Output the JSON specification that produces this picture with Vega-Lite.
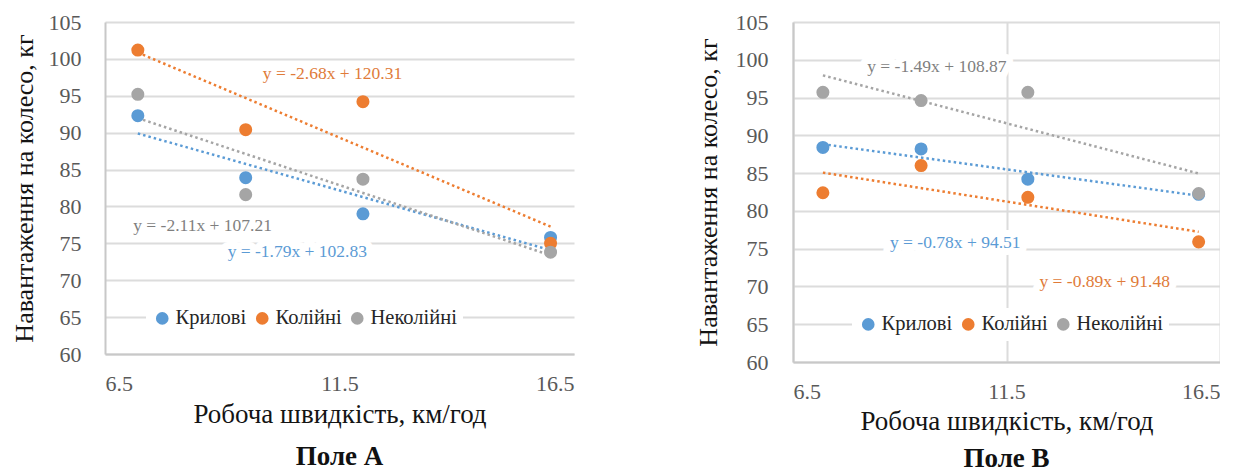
{
  "$schema": "https://vega.github.io/schema/vega-lite/v6.json",
  "padding": {"top": 11, "left": 11, "right": 0, "bottom": 0},
  "spacing": 121,
  "datasets": {
    "pointsA": [
      {"x": 7.2, "y": 92.3, "s": "Крилові"},
      {"x": 9.5, "y": 83.9, "s": "Крилові"},
      {"x": 12, "y": 79.0, "s": "Крилові"},
      {"x": 16, "y": 75.8, "s": "Крилові"},
      {"x": 7.2, "y": 101.2, "s": "Колійні"},
      {"x": 9.5, "y": 90.4, "s": "Колійні"},
      {"x": 12, "y": 94.2, "s": "Колійні"},
      {"x": 16, "y": 75.0, "s": "Колійні"},
      {"x": 7.2, "y": 95.2, "s": "Неколійні"},
      {"x": 9.5, "y": 81.6, "s": "Неколійні"},
      {"x": 12, "y": 83.7, "s": "Неколійні"},
      {"x": 16, "y": 73.8, "s": "Неколійні"}
    ],
    "pointsB": [
      {"x": 7.2, "y": 88.4, "s": "Крилові"},
      {"x": 9.5, "y": 88.2, "s": "Крилові"},
      {"x": 12, "y": 84.2, "s": "Крилові"},
      {"x": 16, "y": 82.2, "s": "Крилові"},
      {"x": 7.2, "y": 82.4, "s": "Колійні"},
      {"x": 9.5, "y": 86.0, "s": "Колійні"},
      {"x": 12, "y": 81.8, "s": "Колійні"},
      {"x": 16, "y": 75.9, "s": "Колійні"},
      {"x": 7.2, "y": 95.7, "s": "Неколійні"},
      {"x": 9.5, "y": 94.6, "s": "Неколійні"},
      {"x": 12, "y": 95.7, "s": "Неколійні"},
      {"x": 16, "y": 82.3, "s": "Неколійні"}
    ],
    "labelsA": [
      {"x": 11.35, "y": 98.0, "t": "y = -2.68x + 120.31", "s": "Колійні"},
      {"x": 8.58, "y": 77.4, "t": "y = -2.11x + 107.21", "s": "Неколійні"},
      {"x": 10.6, "y": 73.8, "t": "y = -1.79x + 102.83", "s": "Крилові"}
    ],
    "labelsB": [
      {"x": 9.87, "y": 99.1, "t": "y = -1.49x + 108.87", "s": "Неколійні"},
      {"x": 10.3, "y": 75.7, "t": "y = -0.78x + 94.51", "s": "Крилові"},
      {"x": 13.8, "y": 70.6, "t": "y = -0.89x + 91.48", "s": "Колійні"}
    ]
  },
  "config": {
    "font": "'Liberation Serif', 'Times New Roman', 'DejaVu Serif', serif",
    "view": {"stroke": null},
    "title": {"font": "'Liberation Serif', 'Times New Roman', 'DejaVu Serif', serif"},
    "text": {"font": "'Liberation Serif', 'Times New Roman', 'DejaVu Serif', serif"},
    "axis": {
      "labelFont": "'Liberation Serif', 'Times New Roman', 'DejaVu Serif', serif",
      "titleFont": "'Liberation Serif', 'Times New Roman', 'DejaVu Serif', serif",
      "labelFontSize": 22,
      "labelColor": "#595959",
      "titleFontWeight": "normal",
      "titleColor": "#141414",
      "ticks": false,
      "domainColor": "#c8c8c8",
      "domainWidth": 2,
      "gridColor": "#dcdcdc",
      "gridWidth": 2
    },
    "axisX": {"titleFontSize": 27},
    "axisY": {"titleFontSize": 26},
    "legend": {
      "orient": "none",
      "direction": "horizontal",
      "fillColor": "white",
      "padding": 6,
      "symbolType": "circle",
      "symbolSize": 160,
      "symbolStrokeWidth": 0,
      "labelFont": "'Liberation Serif', 'Times New Roman', 'DejaVu Serif', serif",
      "labelFontSize": 20.5,
      "labelColor": "#262626",
      "columnPadding": 5,
      "labelOffset": 3
    }
  },
  "hconcat": [
    {
      "width": 469,
      "height": 332,
      "title": {"text": "Поле А", "orient": "bottom", "anchor": "middle", "fontSize": 27, "fontWeight": "bold", "color": "#111111", "offset": 17},
      "encoding": {
        "x": {"field": "x", "type": "quantitative", "scale": {"domain": [6.5, 16.5], "nice": false, "zero": false}, "axis": {"values": [6.5, 11.5, 16.5], "format": ".1f", "title": "Робоча швидкість, км/год", "grid": false, "labelPadding": 19, "titlePadding": 7}},
        "y": {"field": "y", "type": "quantitative", "scale": {"domain": [60, 105], "nice": false, "zero": false}, "axis": {"values": [60, 65, 70, 75, 80, 85, 90, 95, 100, 105], "title": "Навантаження на колесо, кг", "labelPadding": 24, "titlePadding": 11}}
      },
      "resolve": {"scale": {"color": "independent"}},
      "layer": [
        {
          "data": {"name": "pointsA"},
          "transform": [{"regression": "y", "on": "x", "groupby": ["s"]}],
          "mark": {"type": "line", "strokeDash": [2.5, 3], "strokeWidth": 2.5},
          "encoding": {"color": {"field": "s", "type": "nominal", "scale": {"domain": ["Крилові", "Колійні", "Неколійні"], "range": ["#5B9BD5", "#ED7D31", "#A5A5A5"]}, "legend": null}}
        },
        {
          "data": {"name": "pointsA"},
          "mark": {"type": "circle", "size": 170, "opacity": 1},
          "encoding": {"color": {"field": "s", "type": "nominal", "scale": {"domain": ["Крилові", "Колійні", "Неколійні"], "range": ["#5B9BD5", "#ED7D31", "#A5A5A5"]}, "legend": {"title": null, "legendX": 41, "legendY": 280}}}
        },
        {
          "data": {"name": "labelsA"},
          "mark": {"type": "text", "fontSize": 17.5, "fill": "white", "stroke": "white", "strokeWidth": 14, "strokeJoin": "round"},
          "encoding": {"text": {"field": "t"}}
        },
        {
          "data": {"name": "labelsA"},
          "mark": {"type": "text", "fontSize": 17.5},
          "encoding": {"text": {"field": "t"}, "color": {"field": "s", "type": "nominal", "scale": {"domain": ["Крилові", "Колійні", "Неколійні"], "range": ["#5B9BD5", "#E07B39", "#7F7F7F"]}, "legend": null}}
        }
      ]
    },
    {
      "width": 427,
      "height": 340,
      "title": {"text": "Поле В", "orient": "bottom", "anchor": "middle", "fontSize": 27, "fontWeight": "bold", "color": "#111111", "offset": 12},
      "encoding": {
        "x": {"field": "x", "type": "quantitative", "scale": {"domain": [6.5, 16.5], "nice": false, "zero": false}, "axis": {"values": [6.5, 11.5, 16.5], "format": ".1f", "title": "Робоча швидкість, км/год", "grid": true, "labelPadding": 19, "titlePadding": 6}},
        "y": {"field": "y", "type": "quantitative", "scale": {"domain": [60, 105], "nice": false, "zero": false}, "axis": {"values": [60, 65, 70, 75, 80, 85, 90, 95, 100, 105], "title": "Навантаження на колесо, кг", "labelPadding": 25, "titlePadding": 14}}
      },
      "resolve": {"scale": {"color": "independent"}},
      "layer": [
        {
          "data": {"name": "pointsB"},
          "transform": [{"regression": "y", "on": "x", "groupby": ["s"]}],
          "mark": {"type": "line", "strokeDash": [2.5, 3], "strokeWidth": 2.5},
          "encoding": {"color": {"field": "s", "type": "nominal", "scale": {"domain": ["Крилові", "Колійні", "Неколійні"], "range": ["#5B9BD5", "#ED7D31", "#A5A5A5"]}, "legend": null}}
        },
        {
          "data": {"name": "pointsB"},
          "mark": {"type": "circle", "size": 170, "opacity": 1},
          "encoding": {"color": {"field": "s", "type": "nominal", "scale": {"domain": ["Крилові", "Колійні", "Неколійні"], "range": ["#5B9BD5", "#ED7D31", "#A5A5A5"]}, "legend": {"title": null, "legendX": 59, "legendY": 286}}}
        },
        {
          "data": {"name": "labelsB"},
          "mark": {"type": "text", "fontSize": 17.5, "fill": "white", "stroke": "white", "strokeWidth": 14, "strokeJoin": "round"},
          "encoding": {"text": {"field": "t"}}
        },
        {
          "data": {"name": "labelsB"},
          "mark": {"type": "text", "fontSize": 17.5},
          "encoding": {"text": {"field": "t"}, "color": {"field": "s", "type": "nominal", "scale": {"domain": ["Крилові", "Колійні", "Неколійні"], "range": ["#5B9BD5", "#E07B39", "#7F7F7F"]}, "legend": null}}
        }
      ]
    }
  ]
}
